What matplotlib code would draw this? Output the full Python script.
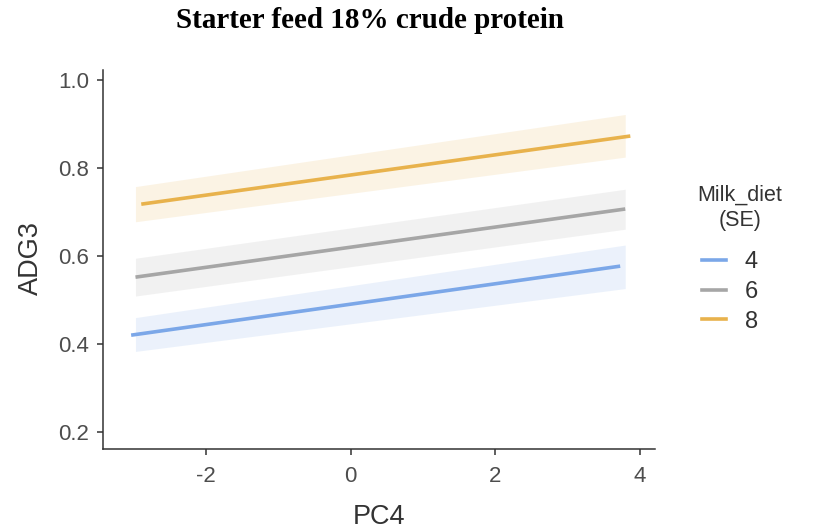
import matplotlib
matplotlib.use("Agg")
import matplotlib.pyplot as plt
from matplotlib.lines import Line2D

# Data
groups = ["4", "6", "8"]
colors = ["#7ba7e8", "#a6a6a6", "#e8b24c"]
line_x = [[-3.04, 3.73], [-2.98, 3.80], [-2.90, 3.87]]
line_y = [[0.420, 0.577], [0.552, 0.707], [0.718, 0.873]]
band_x = [-2.98, 3.80]
band_lo = [[0.383, 0.526], [0.509, 0.661], [0.678, 0.825]]
band_hi = [[0.460, 0.625], [0.595, 0.752], [0.758, 0.922]]
xticks = [-2, 0, 2, 4]
yticks = [0.2, 0.4, 0.6, 0.8, 1.0]

plt.rcParams['font.family'] = ['Liberation Sans', 'DejaVu Sans']

fig = plt.figure(figsize=(8.14, 5.31), dpi=100)
ax = fig.add_axes([0.1265, 0.1544, 0.678, 0.7136])

for i, g in enumerate(groups):
    ax.fill_between(band_x, band_lo[i], band_hi[i], color=colors[i], alpha=0.15, linewidth=0)
for i, g in enumerate(groups):
    ax.plot(line_x[i], line_y[i], color=colors[i], lw=2.6, solid_capstyle='butt')

ax.set_xlim(-3.43, 4.21)
ax.set_ylim(0.161, 1.023)
ax.set_xticks(xticks)
ax.set_xticklabels([str(t) for t in xticks])
ax.set_yticks(yticks)
ax.set_yticklabels([f"{t:.1f}" for t in yticks])
for s in ["top", "right"]:
    ax.spines[s].set_visible(False)
for s in ["left", "bottom"]:
    ax.spines[s].set_color("#333333")
    ax.spines[s].set_linewidth(1.1)
ax.tick_params(colors="#333333", labelcolor="#4d4d4d", labelsize=16, length=4, width=1.1)
ax.tick_params(axis="x", pad=8)
ax.tick_params(axis="y", pad=6)
xl = ax.set_xlabel("PC4", fontsize=19.5, color="#333333")
ax.xaxis.set_label_coords(0.5, -0.179)
xl.set_va("center")
yl = ax.set_ylabel("ADG3", fontsize=19.5, color="#333333")
ax.yaxis.set_label_coords(-0.13, 0.504)
yl.set_va("center")

fig.text(0.4545, 0.962, "Starter feed 18% crude protein", ha="center", va="center",
         fontsize=21, fontweight="bold", family=["Liberation Serif", "DejaVu Serif"])

# legend title
fig.text(740 / 814, 1 - 208 / 531, "Milk_diet\n(SE)", ha="center", va="center",
         multialignment="center", fontsize=15.5, color="#333333", linespacing=1.25)

handles = [Line2D([0], [0], color=c, lw=2.6) for c in colors]
leg = fig.legend(handles, groups, loc="upper left",
                 bbox_to_anchor=(702 / 814, 1 - 251 / 531), frameon=False, fontsize=17,
                 handlelength=1.02, handletextpad=0.8,
                 labelspacing=0.33, borderaxespad=0, borderpad=0)
for t in leg.get_texts():
    t.set_color("#333333")

fig.savefig("out.png", dpi=100)
